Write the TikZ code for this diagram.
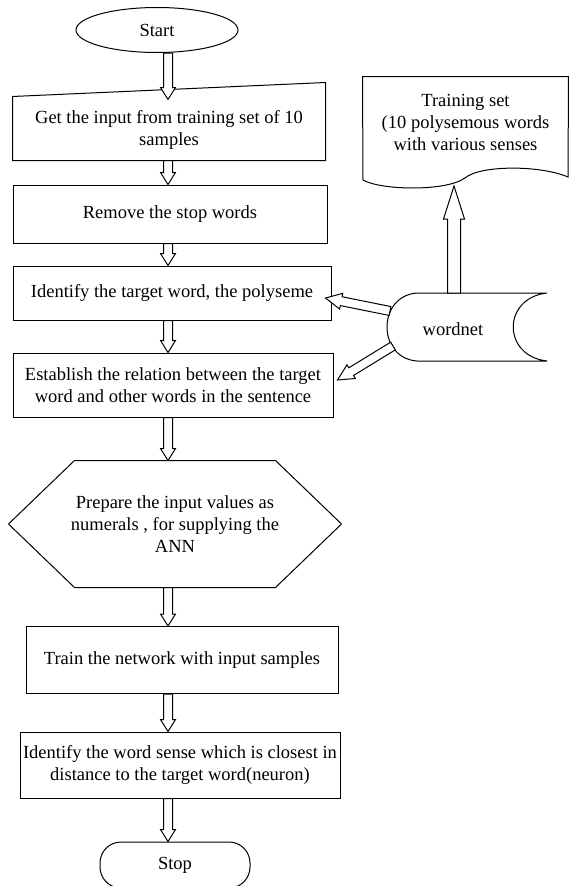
\documentclass[tikz,border=0pt]{standalone}
\usepackage{fontspec}
\setmainfont{Liberation Serif}
\usetikzlibrary{calc,shapes.geometric}

\tikzset{
  box/.style={draw, rectangle, align=center, inner sep=0pt},
  plain/.style={align=center, inner sep=0pt},
  % hollow block arrow: shaft half width, head half width, head length
  hollow/.style n args={3}{draw, fill=white, line join=miter, to path={
      ($(\tikztostart)!#1!90:(\tikztotarget)$)
      -- ($(\tikztotarget)!#3!(\tikztostart)!#1!-90:(\tikztostart)$)
      -- ($(\tikztotarget)!#3!(\tikztostart)!#2!-90:(\tikztostart)$)
      -- (\tikztotarget)
      -- ($(\tikztotarget)!#3!(\tikztostart)!#2!90:(\tikztostart)$)
      -- ($(\tikztotarget)!#3!(\tikztostart)!#1!90:(\tikztostart)$)
      -- ($(\tikztostart)!#1!-90:(\tikztotarget)$) -- cycle}},
  flow/.style={hollow={4.5pt}{7.5pt}{12pt}},
  side/.style={hollow={4.5pt}{8pt}{16pt}},
}

\begin{document}
\begin{tikzpicture}[x=1pt,y=-1pt,line width=1pt,font=\fontsize{18.5}{22}\selectfont]
  \useasboundingbox (0,0) rectangle (569,886);
  \coordinate (axis) at (168,0);

  %Shape: Ellipse
  \node[draw, ellipse, minimum width=162pt, minimum height=45pt] (start) at (157,30) {Start};

  %Shape: Manual Input
  \node[plain, minimum width=312pt, minimum height=60pt] (input) at (169,130)
    {Get the input from training set of 10\\samples};
  \draw ($(input.north west)+(0,-3)$) -- ($(input.north east)+(0,-17)$)
    -- (input.south east) -- (input.south west) -- cycle;

  %Shape: Rectangle
  \node[box, minimum width=314pt, minimum height=58pt] (remove) at (170,214) {Remove the stop words};
  \node[box, minimum width=318pt, minimum height=54pt] (target) at (172,293)
    {Identify the target word, the polyseme};
  \node[box, minimum width=320pt, minimum height=64pt] (relation) at (173,385)
    {Establish the relation between the target\\word and other words in the sentence};

  %Shape: Hexagon
  \node[plain, minimum width=332pt, minimum height=126pt] (prepare) at (175,524)
    {Prepare the input values as\\numerals , for supplying the\\ANN};
  \draw (prepare.west) -- ($(prepare.north west)+(66,0)$) -- ($(prepare.north east)+(-66,0)$)
    -- (prepare.east) -- ($(prepare.south east)+(-66,0)$) -- ($(prepare.south west)+(66,0)$) -- cycle;

  %Shape: Rectangle
  \node[box, minimum width=312pt, minimum height=67pt] (train) at (182,660)
    {Train the network with input samples};
  \node[box, minimum width=320pt, minimum height=66pt] (sense) at (180,765)
    {Identify the word sense which is closest in\\distance to the target word(neuron)};

  %Shape: Terminator
  \node[draw, rounded corners=21pt, minimum width=150pt, minimum height=46pt] (stop) at (175,865) {Stop};

  %Shape: Document
  \node[plain, minimum width=205pt, minimum height=90pt] (trainset) at (465.5,122)
    {Training set\\(10 polysemous words\\with various senses};
  \draw (trainset.north west) -- (trainset.north east) -- (568,177)
    .. controls (540,165) and (480,165) .. (465,178)
    .. controls (445,192) and (380,190) .. (363,180) -- cycle;

  %Shape: Stored Data
  \node (wordnet) at (453,329) {wordnet};
  \draw (417,293) -- (547,293) .. controls (502,298) and (502,356) .. (547,361)
    -- (417,361) .. controls (377,358) and (377,296) .. (417,293) -- cycle;
  \coordinate (wn top) at (454,293);
  \coordinate (wn a) at (390,311);
  \coordinate (wn b) at (393,346);
  \coordinate (set in) at (454,186);

  % main flow
  \draw[flow] (start.south -| axis) to (input.north -| axis);
  \draw[flow] (input.south -| axis) to (remove.north -| axis);
  \draw[flow] (remove.south -| axis) to (target.north -| axis);
  \draw[flow] (target.south -| axis) to (relation.north -| axis);
  \draw[flow] (relation.south -| axis) to (prepare.north -| axis);
  \draw[flow] (prepare.south -| axis) to (train.north -| axis);
  \draw[flow] (train.south -| axis) to (sense.north -| axis);
  \draw[flow] (sense.south -| axis) to (stop.north -| axis);

  % wordnet links
  \draw[hollow={6.5pt}{10.5pt}{33pt}] (wn top) to (set in);
  \draw[side] (wn a) to ($(target.east)+(-6,5)$);
  \draw[side] (wn b) to ($(relation.east)+(4,-5)$);
\end{tikzpicture}
\end{document}
